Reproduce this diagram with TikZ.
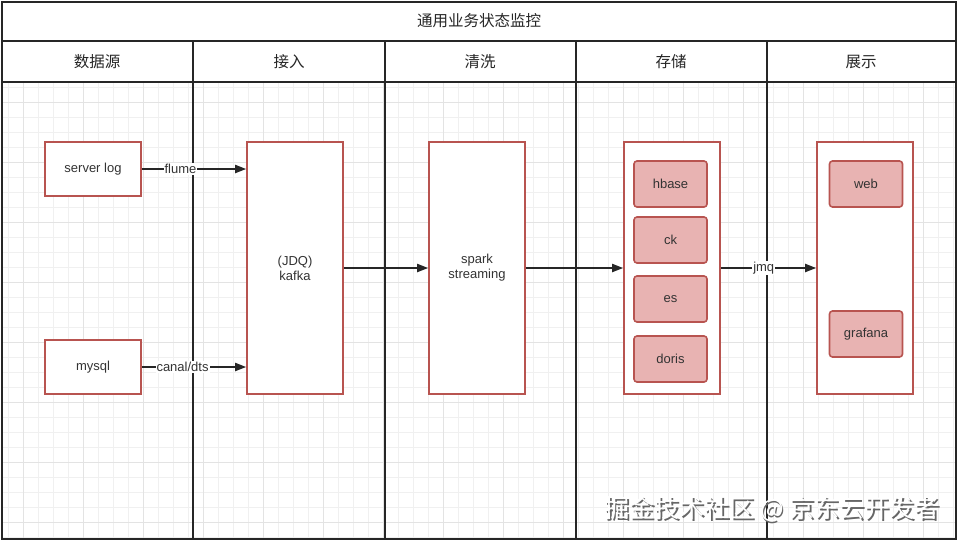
\documentclass[tikz,border=0pt]{standalone}
\usepackage{fontspec}
\setmainfont{Liberation Sans}
\newfontfamily\cjk{Noto Sans CJK SC}
\usetikzlibrary{arrows.meta}
\usetikzlibrary{positioning}
\definecolor{boxred}{HTML}{B85450}
\definecolor{storefill}{HTML}{E8B3B2}
\definecolor{lanegray}{HTML}{262626}

\tikzset{
  lane/.style={draw=lanegray, line width=2.6pt},
  head/.style={font=\cjk\fontsize{15.5}{17}\selectfont, text=black!85},
  stage/.style={draw=boxred, line width=1.6pt, fill=white, minimum width=96pt, align=center,
    inner sep=0pt, font=\fontsize{13}{15}\selectfont, text=black!80},
  store/.style={draw=boxred, line width=1.6pt, fill=storefill, rounded corners=3pt,
    minimum width=73pt, minimum height=46pt, inner sep=0pt, font=\fontsize{13}{15}\selectfont, text=black!80},
  flow/.style={-{Triangle[length=11pt,width=8pt]}, line width=1.8pt, draw=lanegray},
  tag/.style={fill=white, inner sep=1pt, font=\fontsize{13}{15}\selectfont, text=black!80},
}

\begin{document}
\begin{tikzpicture}[x=1pt, y=-1pt]
        \useasboundingbox[fill=white] (0,0) rectangle (958,541);

        % grid
        \foreach \x in {8,23,...,953}
          \draw[gray!12, line width=0.6pt] (\x,82) -- (\x,539);
        \foreach \y in {87,102,...,537}
          \draw[gray!12, line width=0.6pt] (2,\y) -- (956,\y);
        \foreach \x in {23,83,...,953}
          \draw[gray!22, line width=0.6pt] (\x,82) -- (\x,539);
        \foreach \y in {102,162,...,537}
          \draw[gray!22, line width=0.6pt] (2,\y) -- (956,\y);

        % lanes
        \draw[lane] (2,2) rectangle (956,539);
        \draw[lane] (2,41) -- (956,41);
        \draw[lane] (2,82) -- (956,82);
        \foreach \x in {193,385,576,767}
          \draw[lane] (\x,41) -- (\x,539);

        \node[head] (title) at (479,21) {通用业务状态监控};
        \node[head] (hsrc) at (97,62) {数据源};
        \node[head] (hin) at (289,62) {接入};
        \node[head] (hclean) at (480,62) {清洗};
        \node[head] (hstore) at (671,62) {存储};
        \node[head] (hshow) at (861,62) {展示};

        % sources
        \node[stage, minimum height=54pt] (log) at (93,169) {server log};
        \node[stage, minimum height=54pt] (mysql) at (93,367) {mysql};

        % stages
        \node[stage, minimum height=252pt] (kafka) at (295,268) {(JDQ)\\kafka};
        \node[stage, minimum height=252pt] (spark) at (477,268) {spark\\streaming};
        \node[stage, minimum height=252pt] (storage) at (672,268) {};
        \node[stage, minimum height=252pt] (show) at (865,268) {};

        \node[store] (hbase) at (670.5,184) {hbase};
        \node[store] (ck) at (670.5,240) {ck};
        \node[store] (es) at (670.5,299) {es};
        \node[store] (doris) at (670.5,359) {doris};
        \node[store] (web) at (866,184) {web};
        \node[store] (grafana) at (866,334) {grafana};

        % flows
        \draw[flow] (log.east) -- node[tag, pos=0.37] {flume} (log.east -| kafka.west);
        \draw[flow] (mysql.east) -- node[tag, pos=0.39] {canal/dts} (mysql.east -| kafka.west);
        \draw[flow] (kafka.east) -- (spark.west);
        \draw[flow] (spark.east) -- (storage.west);
        \draw[flow] (storage.east) -- node[tag, pos=0.45] {jmq} (show.west);

        % watermark
        \node[font=\cjk\fontsize{25}{27}\selectfont, text=black!60] (markshadow) at (773.8,511.3) {掘金技术社区 @ 京东云开发者};
        \node[font=\cjk\fontsize{25}{27}\selectfont, text=white] (mark) at (772,509.5) {掘金技术社区 @ 京东云开发者};
      \end{tikzpicture}
\end{document}
